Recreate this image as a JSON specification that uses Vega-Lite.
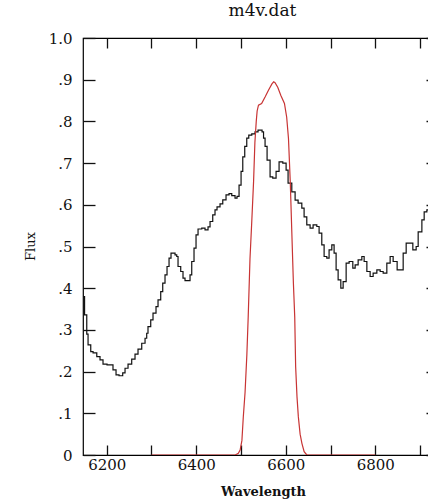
{
  "$schema": "https://vega.github.io/schema/vega-lite/v6.json",
  "autosize": "none",
  "padding": {"left": 83, "top": 38, "right": 0, "bottom": 47},
  "width": 355,
  "height": 417,
  "background": "white",
  "title": {"text": "m4v.dat", "font": "DejaVu Serif", "fontSize": 17, "fontWeight": "normal", "color": "#111", "anchor": "middle", "offset": 11, "dx": 2},
  "config": {
    "view": {"stroke": "black", "strokeWidth": 1.2},
    "axis": {"grid": false, "labelFont": "DejaVu Serif", "labelFontSize": 14, "labelColor": "#111", "tickColor": "#111", "tickWidth": 1.3, "titleColor": "#111", "titleFont": "DejaVu Serif"}
  },
  "datasets": {
    "spectrum": [
      {"w": 6147.1, "f": 0.38}, {"w": 6150.5, "f": 0.336}, {"w": 6155.4, "f": 0.29}, {"w": 6158.3, "f": 0.264},
      {"w": 6164.3, "f": 0.248}, {"w": 6169.5, "f": 0.245}, {"w": 6177.8, "f": 0.236}, {"w": 6185.0, "f": 0.228},
      {"w": 6191.7, "f": 0.218}, {"w": 6200.7, "f": 0.216}, {"w": 6214.0, "f": 0.204}, {"w": 6220.8, "f": 0.192},
      {"w": 6227.5, "f": 0.19}, {"w": 6235.7, "f": 0.197}, {"w": 6240.9, "f": 0.208}, {"w": 6247.6, "f": 0.218},
      {"w": 6255.8, "f": 0.23}, {"w": 6263.2, "f": 0.242}, {"w": 6269.9, "f": 0.254}, {"w": 6278.2, "f": 0.268},
      {"w": 6285.6, "f": 0.28}, {"w": 6289.3, "f": 0.292}, {"w": 6292.2, "f": 0.308}, {"w": 6298.3, "f": 0.324},
      {"w": 6303.4, "f": 0.34}, {"w": 6310.1, "f": 0.356}, {"w": 6314.6, "f": 0.372}, {"w": 6320.6, "f": 0.392},
      {"w": 6325.1, "f": 0.412}, {"w": 6330.2, "f": 0.432}, {"w": 6334.7, "f": 0.452}, {"w": 6339.2, "f": 0.472},
      {"w": 6343.6, "f": 0.484}, {"w": 6352.6, "f": 0.48}, {"w": 6356.4, "f": 0.476}, {"w": 6359.3, "f": 0.452},
      {"w": 6365.3, "f": 0.44}, {"w": 6370.4, "f": 0.424}, {"w": 6374.9, "f": 0.418}, {"w": 6386.1, "f": 0.432},
      {"w": 6389.9, "f": 0.464}, {"w": 6395.0, "f": 0.496}, {"w": 6399.5, "f": 0.528}, {"w": 6404.0, "f": 0.542},
      {"w": 6412.3, "f": 0.544}, {"w": 6419.6, "f": 0.54}, {"w": 6426.3, "f": 0.547}, {"w": 6430.8, "f": 0.56},
      {"w": 6436.8, "f": 0.576}, {"w": 6441.9, "f": 0.588}, {"w": 6446.4, "f": 0.595}, {"w": 6453.1, "f": 0.602},
      {"w": 6459.2, "f": 0.612}, {"w": 6466.5, "f": 0.624}, {"w": 6473.2, "f": 0.627}, {"w": 6479.3, "f": 0.622},
      {"w": 6486.6, "f": 0.616}, {"w": 6491.1, "f": 0.62}, {"w": 6495.6, "f": 0.647}, {"w": 6500.1, "f": 0.68},
      {"w": 6503.9, "f": 0.715}, {"w": 6508.3, "f": 0.74}, {"w": 6512.8, "f": 0.76}, {"w": 6517.3, "f": 0.767},
      {"w": 6524.0, "f": 0.77}, {"w": 6531.3, "f": 0.775}, {"w": 6538.0, "f": 0.779}, {"w": 6547.0, "f": 0.775},
      {"w": 6550.3, "f": 0.76}, {"w": 6553.7, "f": 0.74}, {"w": 6558.2, "f": 0.707}, {"w": 6564.9, "f": 0.667},
      {"w": 6570.9, "f": 0.664}, {"w": 6578.3, "f": 0.68}, {"w": 6585.0, "f": 0.703}, {"w": 6593.3, "f": 0.7},
      {"w": 6600.7, "f": 0.683}, {"w": 6605.1, "f": 0.652}, {"w": 6613.4, "f": 0.631}, {"w": 6620.8, "f": 0.611},
      {"w": 6627.5, "f": 0.604}, {"w": 6635.8, "f": 0.592}, {"w": 6640.9, "f": 0.571}, {"w": 6646.9, "f": 0.552},
      {"w": 6654.3, "f": 0.544}, {"w": 6661.0, "f": 0.552}, {"w": 6669.3, "f": 0.548}, {"w": 6674.4, "f": 0.532},
      {"w": 6680.4, "f": 0.504}, {"w": 6685.6, "f": 0.476}, {"w": 6691.6, "f": 0.472}, {"w": 6696.7, "f": 0.492},
      {"w": 6702.8, "f": 0.504}, {"w": 6707.9, "f": 0.484}, {"w": 6712.4, "f": 0.444}, {"w": 6716.9, "f": 0.42},
      {"w": 6722.9, "f": 0.4}, {"w": 6728.1, "f": 0.416}, {"w": 6734.8, "f": 0.46}, {"w": 6741.5, "f": 0.464},
      {"w": 6749.7, "f": 0.448}, {"w": 6754.9, "f": 0.456}, {"w": 6761.6, "f": 0.468}, {"w": 6769.9, "f": 0.476},
      {"w": 6775.0, "f": 0.464}, {"w": 6781.1, "f": 0.44}, {"w": 6788.4, "f": 0.428}, {"w": 6795.1, "f": 0.436},
      {"w": 6803.4, "f": 0.444}, {"w": 6810.8, "f": 0.44}, {"w": 6817.5, "f": 0.436}, {"w": 6825.7, "f": 0.46},
      {"w": 6833.1, "f": 0.476}, {"w": 6839.8, "f": 0.464}, {"w": 6848.7, "f": 0.444}, {"w": 6857.0, "f": 0.444},
      {"w": 6862.2, "f": 0.484}, {"w": 6868.9, "f": 0.508}, {"w": 6875.6, "f": 0.508}, {"w": 6883.8, "f": 0.492},
      {"w": 6891.2, "f": 0.5}, {"w": 6895.7, "f": 0.535}, {"w": 6904.0, "f": 0.564}, {"w": 6909.1, "f": 0.583},
      {"w": 6915.1, "f": 0.588}, {"w": 6940.0, "f": 0.588}
    ],
    "filter": [
      {"w": 6300, "f": 0}, {"w": 6487, "f": 0}, {"w": 6494, "f": 0.004}, {"w": 6498, "f": 0.012},
      {"w": 6502, "f": 0.035}, {"w": 6505, "f": 0.09}, {"w": 6509, "f": 0.15}, {"w": 6513, "f": 0.24},
      {"w": 6516, "f": 0.33}, {"w": 6520, "f": 0.47}, {"w": 6524, "f": 0.56}, {"w": 6528, "f": 0.655},
      {"w": 6531, "f": 0.75}, {"w": 6534, "f": 0.8}, {"w": 6536, "f": 0.825}, {"w": 6539, "f": 0.839},
      {"w": 6546, "f": 0.843}, {"w": 6554, "f": 0.859}, {"w": 6561, "f": 0.874}, {"w": 6569, "f": 0.89},
      {"w": 6573, "f": 0.895}, {"w": 6576, "f": 0.893}, {"w": 6582, "f": 0.882}, {"w": 6589, "f": 0.862},
      {"w": 6597, "f": 0.843}, {"w": 6602, "f": 0.81}, {"w": 6606, "f": 0.759}, {"w": 6610, "f": 0.655},
      {"w": 6613, "f": 0.55}, {"w": 6617, "f": 0.412}, {"w": 6620, "f": 0.33}, {"w": 6622, "f": 0.212},
      {"w": 6625, "f": 0.14}, {"w": 6628, "f": 0.092}, {"w": 6632, "f": 0.05}, {"w": 6636, "f": 0.028},
      {"w": 6641, "f": 0.008}, {"w": 6647, "f": 0}, {"w": 6800, "f": 0}
    ]
  },
  "layer": [
    {
      "data": {"name": "spectrum"},
      "mark": {"type": "line", "interpolate": "step-after", "color": "#111", "strokeWidth": 1.2, "clip": true},
      "encoding": {
        "x": {"field": "w", "type": "quantitative", "scale": {"domain": [6147, 6940], "nice": false, "zero": false},
          "axis": {"orient": "bottom", "offset": -10, "tickSize": 10, "domain": false, "values": [6200, 6300, 6400, 6500, 6600, 6700, 6800, 6900],
            "labelExpr": "datum.value % 200 == 0 ? datum.label : ''", "format": "d", "labelPadding": 2, "labelFontSize": 15,
            "title": "Wavelength", "titleFontSize": 13, "titleFontWeight": "bold", "titlePadding": 13, "titleX": 180}},
        "y": {"field": "f", "type": "quantitative", "scale": {"domain": [0, 1], "nice": false, "zero": true},
          "axis": {"orient": "left", "offset": -12, "tickSize": 12, "domain": false, "values": [0, 0.1, 0.2, 0.3, 0.4, 0.5, 0.6, 0.7, 0.8, 0.9, 1.0],
            "labelExpr": "datum.value == 0 ? '0' : (datum.value >= 1 ? '1.0' : replace(format(datum.value, '.1f'), '0.', '.'))",
            "labelPadding": 11, "labelFontSize": 15,
            "title": "Flux", "titleFontSize": 13, "titleFontWeight": "normal", "titleX": -65, "titleY": 208, "titleAngle": -90, "titleBaseline": "middle", "titleAlign": "center"}}
      }
    },
    {
      "data": {"name": "filter"},
      "mark": {"type": "line", "color": "#c83434", "strokeWidth": 1.2, "clip": true},
      "encoding": {
        "x": {"field": "w", "type": "quantitative", "scale": {"domain": [6147, 6940], "nice": false, "zero": false},
          "axis": {"orient": "top", "offset": -10, "tickSize": 10, "domain": false, "labels": false, "title": null, "values": [6200, 6300, 6400, 6500, 6600, 6700, 6800, 6900]}},
        "y": {"field": "f", "type": "quantitative", "scale": {"domain": [0, 1], "nice": false, "zero": true},
          "axis": {"orient": "right", "offset": -12, "tickSize": 12, "domain": false, "labels": false, "title": null, "values": [0, 0.1, 0.2, 0.3, 0.4, 0.5, 0.6, 0.7, 0.8, 0.9, 1.0]}}
      }
    }
  ],
  "resolve": {"axis": {"x": "independent", "y": "independent"}}
}
